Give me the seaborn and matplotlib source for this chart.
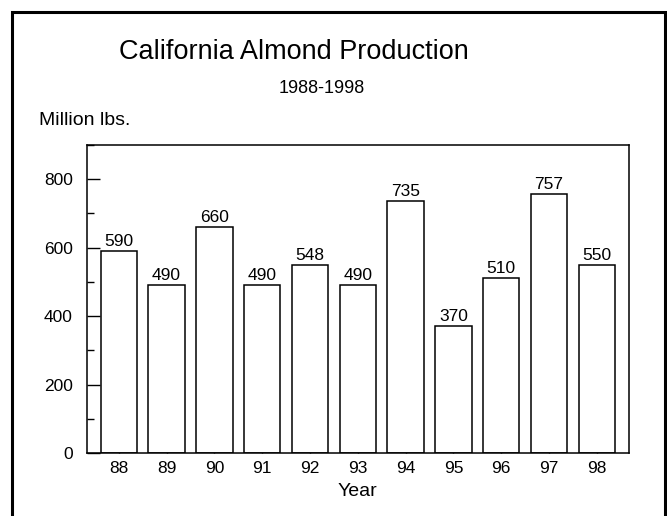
import matplotlib
matplotlib.use('Agg')
import matplotlib.pyplot as plt
import matplotlib.patches as patches
from matplotlib.ticker import MultipleLocator
import pandas as pd
import seaborn as sns

years = ['88', '89', '90', '91', '92', '93', '94', '95', '96', '97', '98']
production = [590, 490, 660, 490, 548, 490, 735, 370, 510, 757, 550]

data = pd.DataFrame({'Year': years, 'Production': production})

sns.set_style('ticks')
plt.rcParams['font.family'] = ['Liberation Sans', 'DejaVu Sans']
plt.rcParams['text.color'] = 'black'
plt.rcParams['axes.labelcolor'] = 'black'
plt.rcParams['xtick.color'] = 'black'
plt.rcParams['ytick.color'] = 'black'
plt.rcParams['axes.edgecolor'] = 'black'

fig = plt.figure(figsize=(6.67, 5.16), dpi=100)
ax = fig.add_axes([0.130, 0.122, 0.813, 0.597])

sns.barplot(ax=ax, x='Year', y='Production', data=data, color='white',
            edgecolor='black', linewidth=1.1, width=0.76, saturation=1)

# value labels on top of bars
for i, v in enumerate(production):
    ax.text(i, v + 6, str(v), ha='center', va='bottom', fontsize=12.5)

ax.set_xlim(-0.67, 10.67)
ax.set_ylim(0, 900)
ax.set_yticks([0, 200, 400, 600, 800])
ax.yaxis.set_minor_locator(MultipleLocator(100))
ax.tick_params(axis='y', which='major', direction='in', length=9, width=1, labelsize=12.5, pad=10)
ax.tick_params(axis='y', which='minor', direction='in', length=5, width=1)
ax.tick_params(axis='x', direction='in', length=8, width=1, labelsize=12.5, pad=6)
for s in ax.spines.values():
    s.set_linewidth(1.1)
    s.set_visible(True)

ax.set_xlabel('Year', fontsize=14, labelpad=5)
ax.set_ylabel('')

fig.text(0.441, 0.90, 'California Almond Production', ha='center', va='center', fontsize=19.5)
fig.text(0.483, 0.828, '1988-1998', ha='center', va='center', fontsize=13)
fig.text(0.058, 0.766, 'Million lbs.', ha='left', va='center', fontsize=14)

# frame around the whole chart
frame = patches.Rectangle((0.018, -0.05), 0.979, 1.027, transform=fig.transFigure,
                          fill=False, edgecolor='black', linewidth=2.2)
fig.patches.append(frame)

fig.savefig('out.png', dpi=100)
